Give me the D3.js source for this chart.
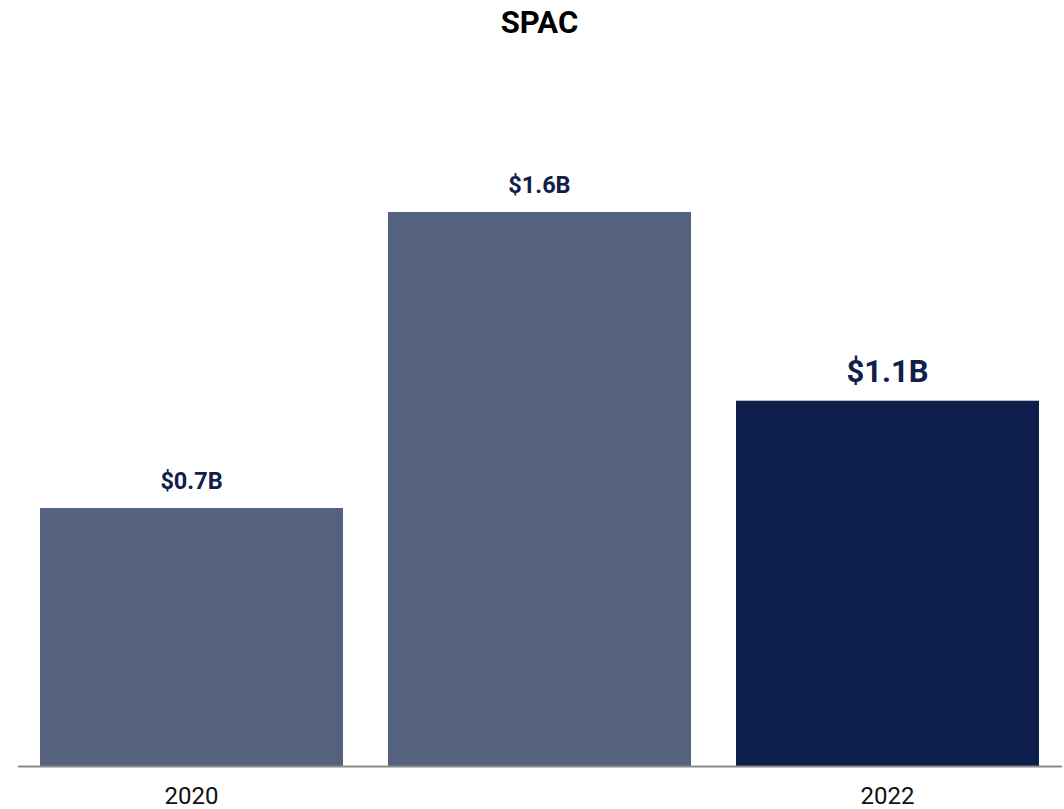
<!DOCTYPE html>
<html>
<head>
<meta charset="utf-8">
<script src="https://cdn.jsdelivr.net/npm/d3@7"></script>
<style>
  html, body { margin: 0; padding: 0; background: #fff; }
  svg { display: block; font-family: Roboto, "Noto Sans", sans-serif; }
</style>
</head>
<body>
<svg id="chart" width="1064" height="809"></svg>
<script>
const categories = ["2020", "2021", "2022"];
const values = [0.745, 1.6, 1.055];
const valueLabels = ["$0.7B", "$1.6B", "$1.1B"];
const tickLabels = ["2020", "", "2022"];
const highlightIndex = 2;

const width = 1064;
const height = 809;
const baseY = 766;

const svg = d3.select("#chart");

const x = d3.scaleBand()
  .domain(categories)
  .range([17.5, 1061.5])
  .paddingInner(0.1293)
  .paddingOuter(0.0647);

const y = d3.scaleLinear()
  .domain([0, 2])
  .range([baseY, 73.5]);

svg.append("text")
  .attr("x", (x.range()[0] + x.range()[1]) / 2)
  .attr("y", 33)
  .attr("text-anchor", "middle")
  .attr("font-size", 31)
  .attr("font-weight", "bold")
  .attr("fill", "#000")
  .text("SPAC");

svg.selectAll(".bar")
  .data(values)
  .join("rect")
  .attr("class", "bar")
  .attr("x", (d, i) => x(categories[i]))
  .attr("y", (d) => y(d))
  .attr("width", x.bandwidth())
  .attr("height", (d) => y(0) - y(d))
  .attr("fill", (d, i) => i === highlightIndex ? "#0d1f4a" : "#546280");

svg.selectAll(".value")
  .data(values)
  .join("text")
  .attr("class", "value")
  .attr("x", (d, i) => x(categories[i]) + x.bandwidth() / 2)
  .attr("y", (d) => y(d) - 19)
  .attr("text-anchor", "middle")
  .attr("font-weight", "bold")
  .attr("font-size", (d, i) => i === highlightIndex ? 31 : 23.5)
  .attr("fill", "#10204b")
  .text((d, i) => valueLabels[i]);

const axis = svg.append("g")
  .attr("transform", `translate(0,${baseY})`)
  .call(d3.axisBottom(x)
    .tickSize(0)
    .tickPadding(21)
    .tickFormat((d, i) => tickLabels[i]));

axis.select(".domain")
  .attr("stroke", "#8a8a8a")
  .attr("stroke-width", 2);

axis.selectAll("text")
  .attr("font-size", 24)
  .attr("font-family", "Roboto, sans-serif")
  .attr("fill", "#111")
  .attr("dy", "0.71em");
</script>
</body>
</html>
